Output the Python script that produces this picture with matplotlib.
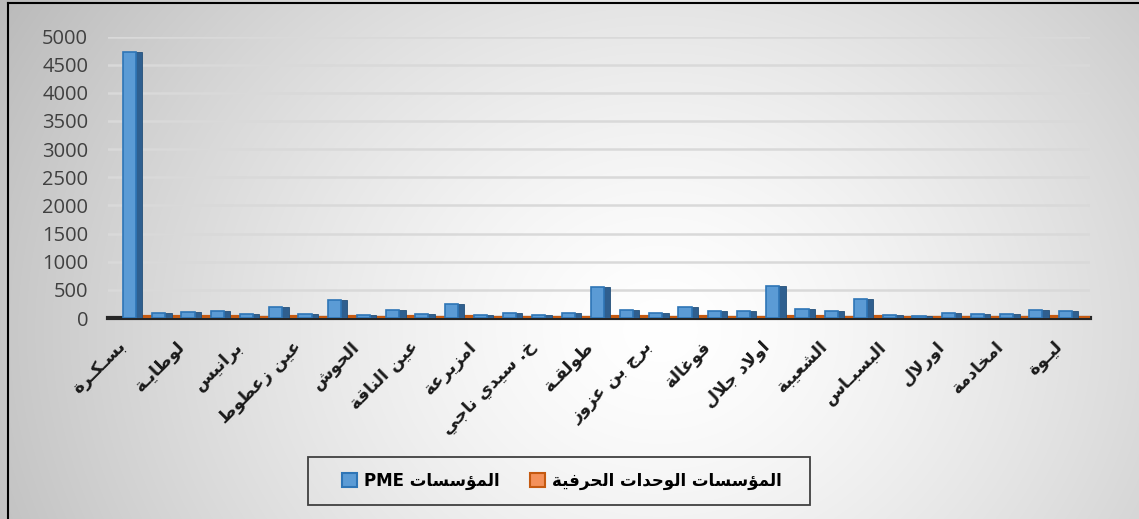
import numpy as np
import matplotlib
matplotlib.use("Agg")
import matplotlib.pyplot as plt
import matplotlib.transforms as mtransforms
from matplotlib.patches import Patch, Rectangle
from matplotlib.lines import Line2D

# ---------------- data ----------------
tick_labels = ["بسـكـرة", "لوطايـة", "برانيس", "عين زعطوط", "الحوش", "عين الناقة",
               "امزيرعة", "خ. سيدي ناجي", "طولقـة", "برج بن عزوز", "فوغالة",
               "اولاد جلال", "الشعيبة", "البسبـاس", "اورلال", "امخادمة", "ليـوة"]
pme_values = [4720, 90, 100, 120, 70, 190, 70, 320, 50, 140, 70, 240, 50, 90, 50, 80,
              550, 150, 80, 200, 125, 125, 570, 155, 125, 340, 45, 35, 90, 65, 65, 140, 125]
craft_values = [15, 10, 10, 12, 8, 10, 8, 12, 6, 10, 8, 10, 6, 8, 6, 8,
                14, 10, 8, 10, 8, 8, 14, 10, 8, 12, 6, 6, 8, 6, 6, 10, 8]
series_names = ["المؤسسات PME", "المؤسسات الوحدات الحرفية"]
y_ticks = [0, 500, 1000, 1500, 2000, 2500, 3000, 3500, 4000, 4500, 5000]

# ---------------- minimal Arabic shaping ----------------
FORMS = {
    'ا': ('\uFE8D', '\uFE8E', None, None), 'ؤ': ('\uFE85', '\uFE86', None, None),
    'ب': ('\uFE8F', '\uFE90', '\uFE91', '\uFE92'), 'ة': ('\uFE93', '\uFE94', None, None),
    'ت': ('\uFE95', '\uFE96', '\uFE97', '\uFE98'), 'ج': ('\uFE9D', '\uFE9E', '\uFE9F', '\uFEA0'),
    'ح': ('\uFEA1', '\uFEA2', '\uFEA3', '\uFEA4'), 'خ': ('\uFEA5', '\uFEA6', '\uFEA7', '\uFEA8'),
    'د': ('\uFEA9', '\uFEAA', None, None), 'ر': ('\uFEAD', '\uFEAE', None, None),
    'ز': ('\uFEAF', '\uFEB0', None, None), 'س': ('\uFEB1', '\uFEB2', '\uFEB3', '\uFEB4'),
    'ش': ('\uFEB5', '\uFEB6', '\uFEB7', '\uFEB8'), 'ط': ('\uFEC1', '\uFEC2', '\uFEC3', '\uFEC4'),
    'ع': ('\uFEC9', '\uFECA', '\uFECB', '\uFECC'), 'غ': ('\uFECD', '\uFECE', '\uFECF', '\uFED0'),
    'ف': ('\uFED1', '\uFED2', '\uFED3', '\uFED4'), 'ق': ('\uFED5', '\uFED6', '\uFED7', '\uFED8'),
    'ك': ('\uFED9', '\uFEDA', '\uFEDB', '\uFEDC'), 'ل': ('\uFEDD', '\uFEDE', '\uFEDF', '\uFEE0'),
    'م': ('\uFEE1', '\uFEE2', '\uFEE3', '\uFEE4'), 'ن': ('\uFEE5', '\uFEE6', '\uFEE7', '\uFEE8'),
    'ه': ('\uFEE9', '\uFEEA', '\uFEEB', '\uFEEC'), 'و': ('\uFEED', '\uFEEE', None, None),
    'ي': ('\uFEF1', '\uFEF2', '\uFEF3', '\uFEF4'), 'ى': ('\uFEEF', '\uFEF0', None, None),
    'ـ': ('\u0640', '\u0640', '\u0640', '\u0640'), 'لا': ('\uFEFB', '\uFEFC', None, None),
}


def shape_word(w):
    toks, i = [], 0
    while i < len(w):
        if w[i] == 'ل' and i + 1 < len(w) and w[i + 1] == 'ا':
            toks.append('لا'); i += 2
        else:
            toks.append(w[i]); i += 1
    out = []
    for k, t in enumerate(toks):
        if t not in FORMS:
            out.append(t); continue
        prev = toks[k - 1] if k > 0 else None
        nxt = toks[k + 1] if k + 1 < len(toks) else None
        jp = prev in FORMS and FORMS[prev][2] is not None
        jn = FORMS[t][2] is not None and nxt in FORMS
        iso, fin, ini, med = FORMS[t]
        out.append(med if (jp and jn) else fin if jp else ini if jn else iso)
    return ''.join(reversed(out))


def visual(s):
    words = s.split(' ')
    res = []
    for w in reversed(words):
        if any('\u0600' <= c <= '\u06FF' for c in w):
            res.append(shape_word(w))
        else:
            res.append(w)
    return ' '.join(res)


# ---------------- figure ----------------
W, H = 1139, 519
fig = plt.figure(figsize=(W / 100, H / 100), dpi=100)

# background gradient (pixel exact)
yy, xx = np.mgrid[0:H, 0:W]
d = np.sqrt(((xx - 660) / 660.0) ** 2 + ((yy - 330) / 560.0) ** 2)
val = 1 - 0.22 * np.clip(d, 0, 1.2) ** 1.4
fig.figimage(np.dstack([val, val, val]), xo=0, yo=0, origin='upper', zorder=-10)

# chart border (left/top only visible)
fig.add_artist(Line2D([7.5, 7.5], [0, H - 2.5], transform=None, color='black', lw=1.5))
fig.add_artist(Line2D([7.5, W], [H - 2.5, H - 2.5], transform=None, color='black', lw=1.5))

x = np.arange(len(pme_values))
ax_l, ax_r = 107.6 / W, 1090 / W
ax_b, ax_t = 1 - 318 / H, 1 - 36.5 / H
ax = fig.add_axes([ax_l, ax_b, ax_r - ax_l, ax_t - ax_b])
ax.set_facecolor('none')

# side faces (darker) then front faces
ax.bar(x + 0.2, pme_values, width=0.38, color='#2F5F8F', edgecolor='#24507a', lw=0.6, zorder=3)
ax.bar(x - 0.05, pme_values, width=0.45, color='#5B9BD5', edgecolor='#2E75B6', lw=1.2, zorder=4)
ax.bar(x + 0.52, craft_values, width=0.6, color='#ED7D31', edgecolor='#C55A11', lw=3, zorder=2.7)

ax.set_xlim(-0.8, len(pme_values) - 0.2)
ax.set_ylim(0, 5000)
ax.set_yticks(y_ticks)
ax.set_yticklabels([str(v) for v in y_ticks], fontsize=14.5, color='#404040', family='Open Sans')
ax.yaxis.grid(True, color='#d9d9d9', lw=1.8, zorder=0)
ax.set_axisbelow(True)
for s in ['left', 'right', 'top']:
    ax.spines[s].set_visible(False)
ax.spines['bottom'].set_color('#262626')
ax.spines['bottom'].set_linewidth(3)
ax.tick_params(axis='both', length=0)
ax.tick_params(axis='y', pad=14)

ax.set_xticks(x[::2])
ax.set_xticklabels([visual(t) for t in tick_labels], rotation=45, ha='right', va='top',
                   rotation_mode='anchor', fontsize=12.5, fontweight='bold',
                   family='DejaVu Sans', color='#1a1a1a')
ax.tick_params(axis='x', pad=14)
shift = mtransforms.ScaledTranslation(-10 / 72, 0, fig.dpi_scale_trans)
for lab in ax.get_xticklabels():
    lab.set_transform(lab.get_transform() + shift)

# legend: frame drawn separately
fig.add_artist(Rectangle((308, H - 505), 502, 48, transform=None, fill=False,
                         edgecolor='#404040', lw=1.3))
handles = [Patch(facecolor='#5B9BD5', edgecolor='#2E75B6', lw=1.5),
           Patch(facecolor='#F4915A', edgecolor='#C55A11', lw=1.5)]
leg = fig.legend(handles, [visual(s) for s in series_names], ncol=2,
                 loc='center', bbox_to_anchor=(562 / W, 1 - 481 / H),
                 frameon=False,
                 prop={'family': 'DejaVu Sans', 'weight': 'bold', 'size': 12},
                 handlelength=0.9, handleheight=0.9, handletextpad=0.45,
                 columnspacing=1.8, borderpad=0.5)

fig.savefig('out.png', dpi=100)
